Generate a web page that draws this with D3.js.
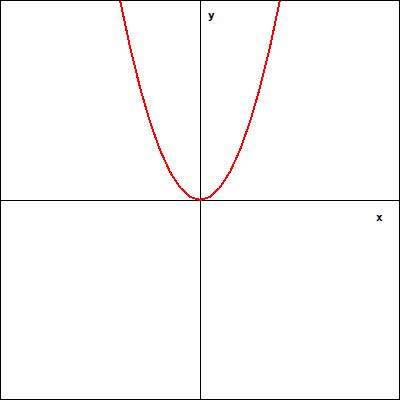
<!DOCTYPE html>
<html><head><meta charset="utf-8">
<script src="https://cdn.jsdelivr.net/npm/d3@7"></script>
<style>html,body{margin:0;padding:0;background:#fff;}svg{display:block;}</style>
</head><body>
<svg id="c" width="400" height="400"></svg>
<script>
const xValues = [-2.05,-2,-1.75,-1.5,-1.25,-1,-0.75,-0.5,-0.25,0,0.25,0.5,0.75,1,1.25,1.5,1.75,2,2.05];
const yValues = [4.2025,4,3.0625,2.25,1.5625,1,0.5625,0.25,0.0625,0,0.0625,0.25,0.5625,1,1.5625,2.25,3.0625,4,4.2025];
const axisLabels = ["x","y"];

const W=400,H=400;
const svg=d3.select("#c");
const x=d3.scaleLinear().domain([-5,5]).range([0,W]);
const y=d3.scaleLinear().domain([-4,4]).range([H,0]);
const g=svg.append("g");
g.append("rect").attr("x",0.5).attr("y",0.5).attr("width",W-1).attr("height",H-1)
 .attr("fill","none").attr("stroke","#000").attr("shape-rendering","crispEdges");
const clip=svg.append("clipPath").attr("id","cl").append("rect").attr("x",1).attr("y",1).attr("width",W-2).attr("height",H-2);
g.append("line").attr("x1",x(0)+0.5).attr("x2",x(0)+0.5).attr("y1",0).attr("y2",H)
 .attr("stroke","#000").attr("shape-rendering","crispEdges");
g.append("line").attr("x1",0).attr("x2",W).attr("y1",y(0)+0.5).attr("y2",y(0)+0.5)
 .attr("stroke","#000").attr("shape-rendering","crispEdges");
const pts=xValues.map((v,i)=>[v,yValues[i]]);
g.append("path").datum(pts).attr("clip-path","url(#cl)")
 .attr("d",d3.line().x(d=>x(d[0])).y(d=>y(d[1])))
 .attr("fill","none").attr("stroke","#ff0000").attr("stroke-width",2).attr("shape-rendering","crispEdges");
g.append("text").attr("x",376).attr("y",221).text(axisLabels[0])
 .attr("font-family","DejaVu Sans Mono").attr("font-weight","bold").attr("font-size",11).attr("fill","#000");
g.append("text").attr("x",208).attr("y",19).text(axisLabels[1])
 .attr("font-family","DejaVu Sans Mono").attr("font-weight","bold").attr("font-size",11).attr("fill","#000");
</script>
</body></html>
